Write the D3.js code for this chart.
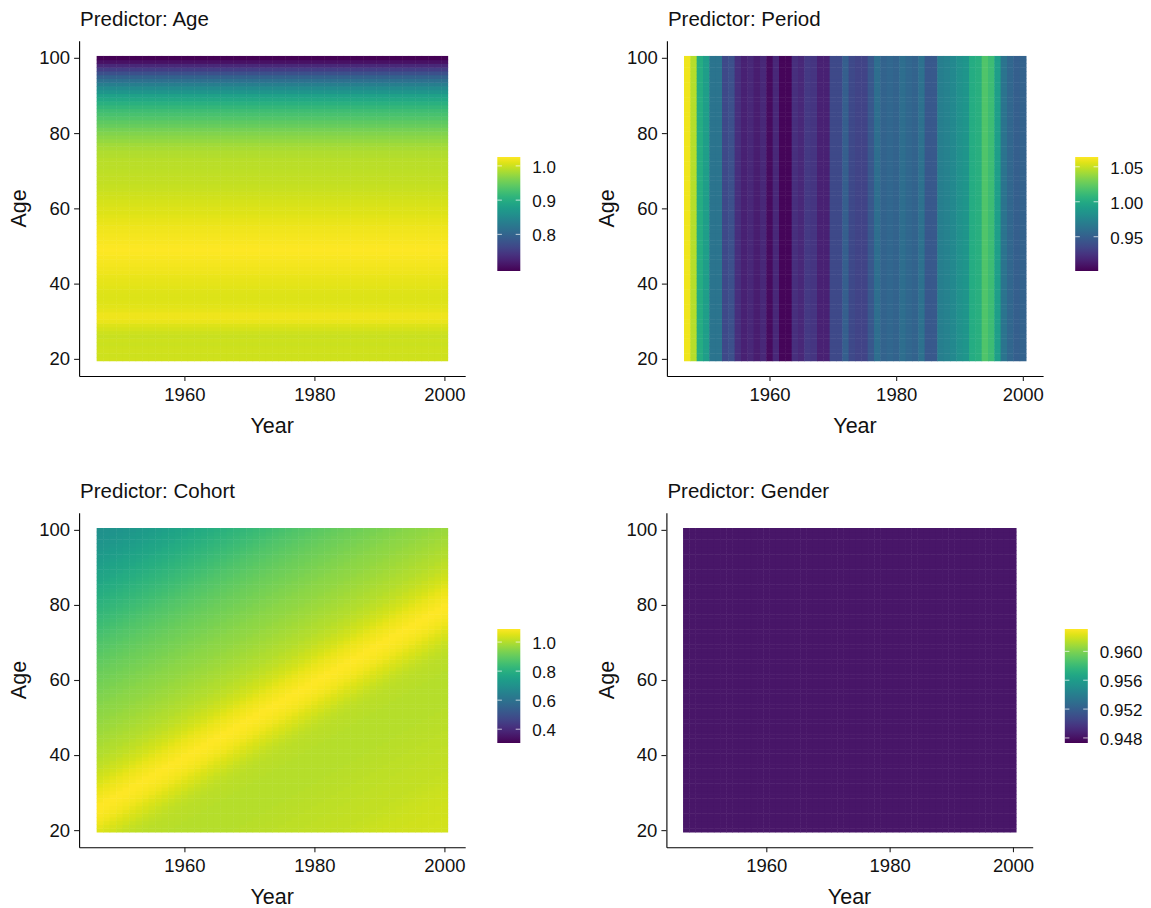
<!DOCTYPE html>
<html><head><meta charset="utf-8">
<script src="https://cdn.jsdelivr.net/npm/d3@7"></script>
<style>
body{margin:0;background:#fff}
svg text{font-family:"Liberation Sans",Arial,Helvetica,sans-serif;fill:#111}
</style>
</head><body>
<svg id="chart" width="1151" height="908"></svg>
<script>
// ---------------- DATA ----------------
const years = [1947,1948,1949,1950,1951,1952,1953,1954,1955,1956,1957,1958,1959,1960,1961,1962,1963,1964,1965,1966,1967,1968,1969,1970,1971,1972,1973,1974,1975,1976,1977,1978,1979,1980,1981,1982,1983,1984,1985,1986,1987,1988,1989,1990,1991,1992,1993,1994,1995,1996,1997,1998,1999,2000];
const ages = [20,21,22,23,24,25,26,27,28,29,30,31,32,33,34,35,36,37,38,39,40,41,42,43,44,45,46,47,48,49,50,51,52,53,54,55,56,57,58,59,60,61,62,63,64,65,66,67,68,69,70,71,72,73,74,75,76,77,78,79,80,81,82,83,84,85,86,87,88,89,90,91,92,93,94,95,96,97,98,99,100];

// Age effect, by age 20..100
const ageEffect = [1.002,1.001,1.002,1.000,0.999,1.000,0.998,1.000,1.004,1.009,
  1.015,1.018,1.017,1.013,1.011,1.010,1.009,1.009,1.010,1.011,
  1.012,1.013,1.015,1.017,1.019,1.020,1.022,1.023,1.024,1.025,
  1.024,1.023,1.022,1.020,1.019,1.017,1.015,1.013,1.011,1.009,
  1.008,1.006,1.004,1.002,1.000,0.998,0.997,0.996,0.995,0.994,
  0.993,0.992,0.991,0.990,0.988,0.986,0.983,0.978,0.973,0.968,
  0.963,0.956,0.949,0.943,0.936,0.929,0.923,0.914,0.904,0.893,
  0.882,0.867,0.852,0.834,0.815,0.797,0.774,0.752,0.730,0.708,0.693];

// Period effect, by year 1947..2000
const periodEffect = [1.060,1.046,1.001,0.992,0.964,0.964,0.937,0.941,0.923,0.916,
  0.919,0.914,0.919,0.906,0.919,0.903,0.903,0.923,0.919,0.928,
  0.926,0.916,0.916,0.937,0.937,0.950,0.937,0.934,0.934,0.945,
  0.959,0.952,0.955,0.952,0.959,0.955,0.952,0.961,0.945,0.946,
  0.970,0.973,0.977,0.983,0.986,1.001,1.004,1.019,1.013,0.992,
  0.964,0.955,0.950,0.952];

// Cohort effect, by birth cohort 1847..1980 (cohort = year - age)
const cohortStart = 1847;
const cohortEffect = [0.698,0.702,0.708,0.712,0.717,0.722,0.727,0.732,0.737,0.743,
  0.749,0.756,0.762,0.768,0.774,0.781,0.787,0.793,0.800,0.806,
  0.812,0.818,0.825,0.831,0.837,0.844,0.850,0.856,0.862,0.868,
  0.873,0.879,0.884,0.890,0.895,0.899,0.904,0.909,0.913,0.917,
  0.921,0.925,0.929,0.933,0.937,0.941,0.945,0.949,0.953,0.957,
  0.960,0.964,0.968,0.972,0.976,0.980,0.984,0.988,0.992,0.997,
  1.001,1.006,1.011,1.015,1.025,1.030,1.035,1.045,1.055,1.063,
  1.070,1.077,1.082,1.090,1.088,1.086,1.082,1.077,1.070,1.060,
  1.052,1.043,1.035,1.027,1.022,1.015,1.013,1.010,1.008,1.007,
  1.006,1.004,1.004,1.003,1.003,1.003,1.003,1.003,1.003,1.004,
  1.004,1.005,1.006,1.007,1.008,1.008,1.010,1.011,1.012,1.012,
  1.013,1.015,1.015,1.016,1.017,1.018,1.019,1.019,1.020,1.022,
  1.023,1.026,1.027,1.029,1.030,1.030,1.032,1.033,1.033,1.034,
  1.035,1.036,1.037,1.037];

// Gender effect (nearly constant across the grid)
const genderEffect = [0.9482];

// Tick labels
const yearTicks = [1960, 1980, 2000];
const ageTicks = [20, 40, 60, 80, 100];
const ageLegendTicks = [0.8, 0.9, 1.0];
const periodLegendTicks = [0.95, 1.00, 1.05];
const cohortLegendTicks = [0.4, 0.6, 0.8, 1.0];
const genderLegendTicks = [0.948, 0.952, 0.956, 0.960];
// Colour-bar limits (range of each predictor)
const ageLimits = [0.693, 1.026];
const periodLimits = [0.901, 1.064];
const cohortLimits = [0.305, 1.090];
const genderLimits = [0.9473, 0.9631];

// ---------------- LAYOUT ----------------
const panels = [
  {title:"Predictor: Age", val:(yr,a)=>ageEffect[ages.indexOf(a)], lim:ageLimits, ticks:ageLegendTicks, fmt:".1f",
   x0:79.1, x1:465.2, yb:376, yt:40.7, lx:497.3, ly:157, top:0},
  {title:"Predictor: Period", val:(yr,a)=>periodEffect[years.indexOf(yr)], lim:periodLimits, ticks:periodLegendTicks, fmt:".2f",
   x0:666.9, x1:1043.1, yb:376, yt:40.7, lx:1075.2, ly:157, top:0},
  {title:"Predictor: Cohort", val:(yr,a)=>cohortEffect[yr-a-cohortStart], lim:cohortLimits, ticks:cohortLegendTicks, fmt:".1f",
   x0:79.1, x1:465.2, yb:847.2, yt:512.8, lx:497.3, ly:629, top:471.5},
  {title:"Predictor: Gender", val:(yr,a)=>genderEffect[0], lim:genderLimits, ticks:genderLegendTicks, fmt:".3f",
   x0:666.4, x1:1032.7, yb:847.2, yt:512.8, lx:1064.8, ly:629, top:471.5}
];

const svg = d3.select("#chart");
const defs = svg.append("defs");
const barW = 23, barH = 114;

panels.forEach((p, i) => {
  const g = svg.append("g");
  const x = d3.scaleLinear().domain([1943.8, 2003.2]).range([p.x0, p.x1]);
  const y = d3.scaleLinear().domain([15.45, 104.55]).range([p.yb, p.yt]);
  const color = d3.scaleSequential(d3.interpolateViridis).domain(p.lim);

  // tiles
  const cells = [];
  years.forEach(yr => ages.forEach(a => cells.push({yr, a, v: p.val(yr, a)})));
  g.append("g").selectAll("rect").data(cells).join("rect")
    .attr("x", d => x(d.yr - 0.5))
    .attr("y", d => y(d.a + 0.5))
    .attr("width", d => x(d.yr + 0.5) - x(d.yr - 0.5) + 0.5)
    .attr("height", d => y(d.a - 0.5) - y(d.a + 0.5) + 0.5)
    .attr("fill", d => color(d.v));

  // axes
  const ax = g.append("g").attr("transform", `translate(0,${p.yb})`)
    .call(d3.axisBottom(x).tickValues(yearTicks).tickFormat(d3.format("d")).tickSize(5).tickPadding(7).tickSizeOuter(0));
  const ay = g.append("g").attr("transform", `translate(${p.x0},0)`)
    .call(d3.axisLeft(y).tickValues(ageTicks).tickFormat(d3.format("d")).tickSize(5).tickPadding(4).tickSizeOuter(0));
  [ax, ay].forEach(a => {
    a.select(".domain").attr("stroke", "#000").attr("stroke-width", 1.1);
    a.selectAll(".tick line").attr("stroke", "#222").attr("stroke-width", 1.1);
    a.selectAll(".tick text").attr("font-size", 18.5).attr("fill", "#151515")
      .style("font-family", '"Liberation Sans",Arial,sans-serif');
  });

  // titles
  g.append("text").attr("x", p.x0 + 1).attr("y", p.top + 26)
    .attr("font-size", 20.5).text(p.title);
  g.append("text").attr("x", (p.x0 + p.x1) / 2).attr("y", p.top + 432.5)
    .attr("text-anchor", "middle").attr("font-size", 21.5).text("Year");
  g.append("text").attr("transform", `translate(${(i % 2 ? 588 : 0) + 25.5},${(p.yb + p.yt) / 2}) rotate(-90)`)
    .attr("text-anchor", "middle").attr("font-size", 21.5).text("Age");

  // colour bar
  const gid = "grad" + i;
  const grad = defs.append("linearGradient").attr("id", gid)
    .attr("x1", 0).attr("y1", 1).attr("x2", 0).attr("y2", 0);
  d3.range(0, 1.0001, 0.05).forEach(t => {
    grad.append("stop").attr("offset", t).attr("stop-color", d3.interpolateViridis(t));
  });
  g.append("rect").attr("x", p.lx).attr("y", p.ly).attr("width", barW).attr("height", barH)
    .attr("fill", `url(#${gid})`);
  const ly = d3.scaleLinear().domain(p.lim).range([p.ly + barH, p.ly]);
  const lg = g.append("g");
  p.ticks.forEach(t => {
    const yy = ly(t);
    lg.append("line").attr("x1", p.lx).attr("x2", p.lx + barW / 5).attr("y1", yy).attr("y2", yy)
      .attr("stroke", "#fff").attr("stroke-opacity", 0.7).attr("stroke-width", 1);
    lg.append("line").attr("x1", p.lx + barW * 4 / 5).attr("x2", p.lx + barW).attr("y1", yy).attr("y2", yy)
      .attr("stroke", "#fff").attr("stroke-opacity", 0.7).attr("stroke-width", 1);
    lg.append("text").attr("x", p.lx + barW + 12).attr("y", yy + 1).attr("dy", "0.35em")
      .attr("font-size", 17).text(d3.format(p.fmt)(t));
  });
});
</script>
</body></html>
